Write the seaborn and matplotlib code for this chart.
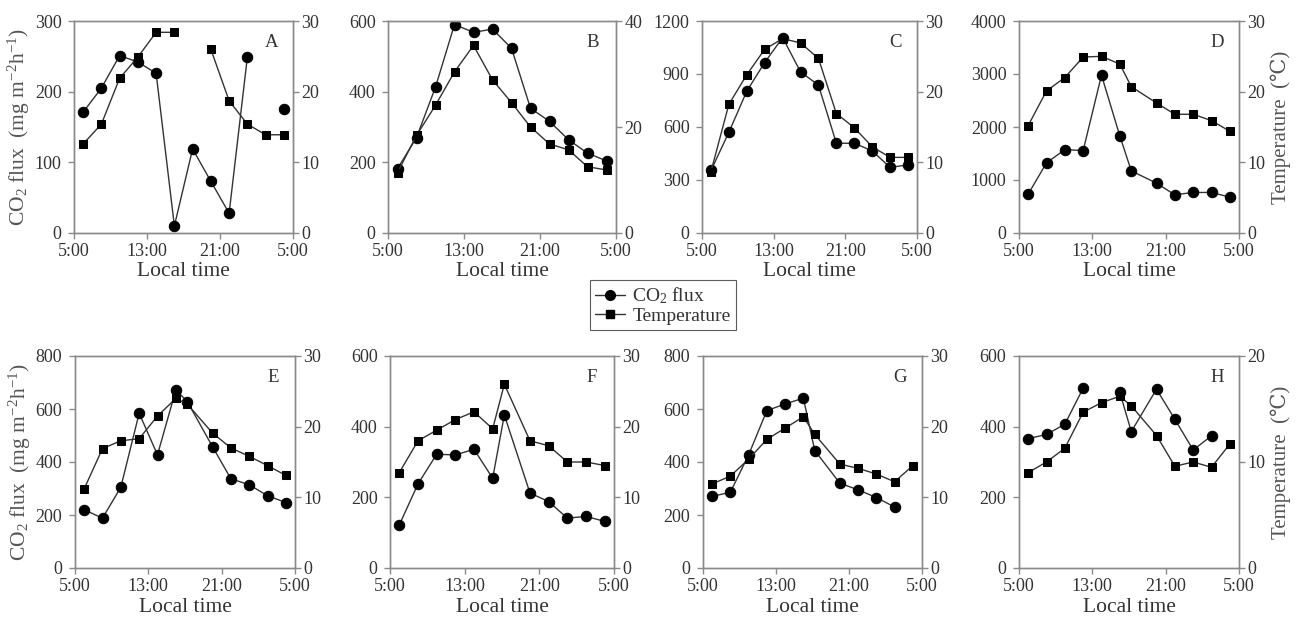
import numpy as np
import pandas as pd
import matplotlib
matplotlib.use('Agg')
import matplotlib.pyplot as plt
import seaborn as sns
from matplotlib.lines import Line2D

# hours after 5:00 for each sampling time
hours = [1, 3, 5, 7, 9, 11, 13, 15, 17, 19, 21, 23]
hours_late = [1, 3, 5, 7, 9, 11, 12.25, 15, 17, 19, 21, 23]

flux_A = [171, 205, 251, 242, 226, 10, 119, 73, 28, 249, None, 176]
temp_A = [12.6, 15.4, 21.9, 24.9, 28.4, 28.4, None, 26.0, 18.7, 15.4, 13.9, 13.9]
flux_B = [182, 270, 413, 590, 568, 577, 523, 353, 316, 264, 226, 204]
temp_B = [11.4, 18.4, 24.1, 30.4, 35.4, 28.9, 24.6, 20.0, 16.8, 15.7, 12.5, 11.9]
flux_C = [354, 570, 803, 965, 1106, 912, 837, 508, 508, 465, 371, 386]
temp_C = [8.7, 18.2, 22.4, 26.0, 27.5, 26.9, 24.7, 16.9, 14.9, 12.2, 10.7, 10.7]
flux_D = [733, 1323, 1574, 1555, 2978, 1831, 1172, 940, 721, 765, 765, 677]
temp_D = [15.2, 20.1, 22.0, 24.9, 25.0, 23.9, 20.7, 18.4, 16.8, 16.8, 15.9, 14.4]
flux_E = [220, 188, 305, 584, 427, 672, 628, 458, 337, 314, 273, 247]
temp_E = [11.2, 16.9, 18.0, 18.3, 21.5, 24.0, 23.2, 19.1, 17.0, 15.8, 14.5, 13.1]
flux_F = [122, 238, 322, 320, 336, 254, 433, 212, 188, 141, 146, 132]
temp_F = [13.5, 18.0, 19.5, 21.0, 22.1, 19.7, 26.0, 18.0, 17.3, 15.0, 15.0, 14.5]
flux_G = [270, 286, 427, 594, 619, 641, 443, 320, 295, 266, 230, None]
temp_G = [11.9, 13.0, 15.4, 18.2, 19.8, 21.4, 18.9, 14.7, 14.1, 13.3, 12.2, 14.5]
flux_H = [366, 378, 407, 509, None, 497, 386, 506, 421, 334, 374, None]
temp_H = [9.0, 10.0, 11.3, 14.7, 15.6, 16.2, 15.3, 12.5, 9.6, 10.0, 9.5, 11.7]

flux_max = [300, 600, 1200, 4000, 800, 600, 800, 600]
flux_step = [100, 200, 300, 1000, 200, 200, 200, 200]
temp_max = [30, 40, 30, 30, 30, 30, 30, 20]
temp_step = [10, 20, 10, 10, 10, 10, 10, 10]
time_ticks = [0, 8, 16, 24]
time_labels = ['5:00', '13:00', '21:00', '5:00']

panels = {
    'A': (hours, flux_A, temp_A), 'B': (hours, flux_B, temp_B),
    'C': (hours, flux_C, temp_C), 'D': (hours_late, flux_D, temp_D),
    'E': (hours_late, flux_E, temp_E), 'F': (hours_late, flux_F, temp_F),
    'G': (hours_late, flux_G, temp_G), 'H': (hours_late, flux_H, temp_H),
}

# axes boxes in pixels: left, top, width, height
boxes = {
    'A': (74, 21, 219, 212), 'B': (388, 21, 228, 212),
    'C': (702, 21, 215, 212), 'D': (1019, 21, 220, 212),
    'E': (75, 356, 220, 212), 'F': (390, 356, 224, 212),
    'G': (703, 356, 219, 212), 'H': (1019, 356, 220, 212),
}

sns.set_style('ticks')
serif = ['Liberation Serif', 'DejaVu Serif', 'Noto Sans CJK SC']
plt.rcParams['font.family'] = serif
plt.rcParams['mathtext.fontset'] = 'custom'
plt.rcParams['mathtext.rm'] = 'Liberation Serif'
plt.rcParams['mathtext.it'] = 'Liberation Serif'

W, H = 1300, 617
fig = plt.figure(figsize=(13, 6.17), dpi=100)

spine_c = '#8a8a8a'
text_c = '#333333'
line_c = '#333333'


def to_frame(x, y):
    df = pd.DataFrame({'x': x, 'y': y})
    # break the line where a value is missing
    df['seg'] = df['y'].isna().cumsum()
    return df.dropna()


def style_axis(ax, ypad):
    for s in ax.spines.values():
        s.set_color(spine_c)
        s.set_linewidth(1.0)
    ax.tick_params(colors=spine_c, labelcolor=text_c, labelsize=13,
                   length=4, width=1, direction='out')
    ax.tick_params(axis='y', pad=ypad)
    ax.tick_params(axis='x', pad=3)


for i, (name, (x, flux, temp)) in enumerate(panels.items()):
    l, t, w, h = boxes[name]
    ax = fig.add_axes([l / W, (H - t - h) / H, w / W, h / H])
    ax2 = ax.twinx()

    sns.lineplot(data=to_frame(x, flux), x='x', y='y', units='seg', estimator=None,
                 marker='o', markersize=7.5, color=line_c, markerfacecolor='black',
                 markeredgecolor='black', linewidth=1, ax=ax)
    sns.lineplot(data=to_frame(x, temp), x='x', y='y', units='seg', estimator=None,
                 marker='s', markersize=6.3, color=line_c, markerfacecolor='black',
                 markeredgecolor='black', linewidth=1, ax=ax2)

    ax.set_xlim(0, 24)
    ax.set_xticks(time_ticks)
    ax.set_xticklabels(time_labels)
    ax.set_ylim(0, flux_max[i])
    ax.set_yticks(np.arange(0, flux_max[i] + 1, flux_step[i]))
    ax2.set_ylim(0, temp_max[i])
    ax2.set_yticks(np.arange(0, temp_max[i] + 1, temp_step[i]))
    ax.set_xlabel('Local time', fontsize=15.5, color=text_c, labelpad=2)
    ax.set_ylabel('')
    ax2.set_ylabel('')
    style_axis(ax, 5)
    style_axis(ax2, 2)

    if name in ('A', 'E'):
        ax.set_ylabel(r'CO$_2$ flux  (mg m$^{-2}$h$^{-1}$)', fontsize=15.5,
                      color='#555555', labelpad=2)
    if name in ('D', 'H'):
        ax2.set_ylabel('Temperature  (℃)', fontsize=15, color='#555555',
                       labelpad=4, family=serif)

    ax.text(0.9, 0.9, name, transform=ax.transAxes, fontsize=13.5,
            color=text_c, ha='center', va='center')

handles = [
    Line2D([], [], color=line_c, lw=1, marker='o', markersize=7, markerfacecolor='black',
           markeredgecolor='black'),
    Line2D([], [], color=line_c, lw=1, marker='s', markersize=6, markerfacecolor='black',
           markeredgecolor='black'),
]
leg = fig.legend(handles, [r'CO$_2$ flux', 'Temperature'], loc='center',
                 bbox_to_anchor=(663 / W, 1 - 305 / H), fontsize=14, frameon=True,
                 fancybox=False, handlelength=1.5, handletextpad=0.4,
                 borderpad=0.3, labelspacing=0.05)
leg.get_frame().set_edgecolor('#333333')
leg.get_frame().set_linewidth(0.8)
for txt in leg.get_texts():
    txt.set_color(text_c)

fig.savefig('out.png', dpi=100)
